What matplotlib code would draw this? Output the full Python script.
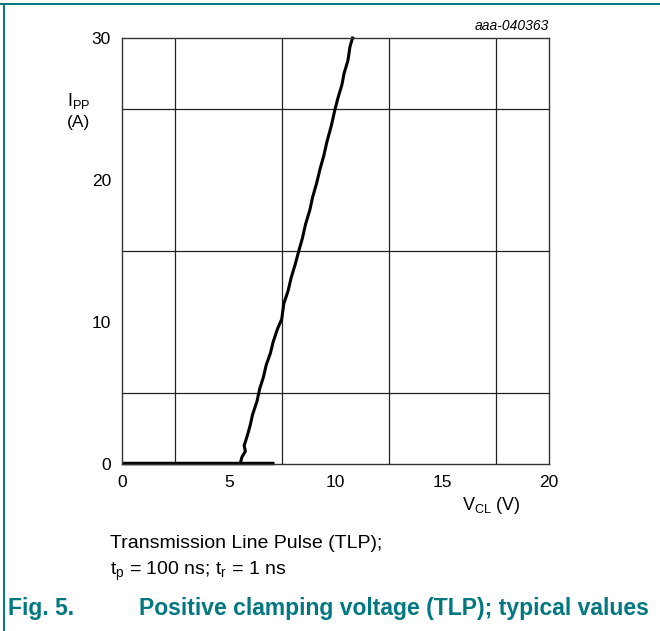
import matplotlib
matplotlib.use("Agg")
import matplotlib.pyplot as plt
from matplotlib.lines import Line2D

plt.rcParams['font.family'] = ['Liberation Sans', 'DejaVu Sans']
plt.rcParams['mathtext.fontset'] = 'custom'
plt.rcParams['mathtext.rm'] = 'Liberation Sans'
plt.rcParams['mathtext.it'] = 'Liberation Sans:italic'

TEAL = "#00787f"

# TLP curve: clamping voltage (V) vs pulse current (A)
v_cl = [5.55, 5.62, 5.78, 5.72, 5.85, 6.0, 6.12, 6.32, 6.45, 6.62, 6.76,
        6.95, 7.08, 7.28, 7.48, 7.58, 7.78, 7.92, 8.12, 8.28, 8.45, 8.6,
        8.8, 8.93, 9.12, 9.28, 9.45, 9.6, 9.8, 9.98, 10.12, 10.3, 10.4,
        10.58, 10.68, 10.8]
i_pp = [0.1, 0.5, 0.9, 1.3, 1.9, 2.7, 3.5, 4.4, 5.3, 6.1, 7.0,
        7.8, 8.6, 9.5, 10.2, 11.3, 12.2, 13.1, 14.1, 15.0, 15.9, 16.9,
        17.9, 18.8, 19.8, 20.8, 21.7, 22.7, 23.8, 25.0, 25.8, 26.7, 27.5,
        28.4, 29.4, 30.0]
# leakage trace along zero current
v_flat = [0.0, 7.1]
i_flat = [0.05, 0.05]

x_ticks = [0, 5, 10, 15, 20]
y_ticks = [0, 10, 20, 30]

fig = plt.figure(figsize=(6.6, 6.31), dpi=100)
ax = fig.add_axes([122/660, 1 - 464/631, 427/660, 426/631])

ax.set_xlim(0, 20)
ax.set_ylim(0, 30)
ax.set_xticks(x_ticks)
ax.set_yticks(y_ticks)
ax.set_xticks([2.5 * i for i in range(9)], minor=True)
ax.set_yticks([5 * i for i in range(7)], minor=True)
ax.grid(which='minor', color='#222222', linewidth=0.9)
ax.tick_params(which='both', length=0, labelsize=12.5, pad=8)
for s in ax.spines.values():
    s.set_linewidth(1.0)
    s.set_color('#333333')

ax.plot(v_flat, i_flat, color='black', linewidth=2.5, solid_capstyle='butt', clip_on=False)
ax.plot(v_cl, i_pp, color='black', linewidth=2.2, clip_on=False)

# labels
fig.text(67/660, 1 - 101/631, r"I$_{\mathrm{PP}}$", fontsize=13, va='center', ha='left')
fig.text(67/660, 1 - 123/631, "(A)", fontsize=12.5, va='center', ha='left')
fig.text(462/660, 1 - 505/631, r"V$_{\mathrm{CL}}$ (V)", fontsize=13, va='center', ha='left')
fig.text(549/660, 1 - 26/631, "aaa-040363", fontsize=10, style='italic', ha='right', va='center')

fig.text(110/660, 1 - 543/631, "Transmission Line Pulse (TLP);", fontsize=14, va='center', ha='left')
fig.text(110/660, 1 - 571/631, r"t$_{\mathrm{p}}$ = 100 ns; t$_{\mathrm{r}}$ = 1 ns", fontsize=14, va='center', ha='left')
fig.text(8/660, 1 - 609/631, "Fig. 5.", fontsize=16.5, fontweight='bold', color=TEAL, va='center', ha='left')
fig.text(139/660, 1 - 609/631, "Positive clamping voltage (TLP); typical values",
         fontsize=16.5, fontweight='bold', color=TEAL, va='center', ha='left')

# frame lines
fig.add_artist(Line2D([0, 1], [1 - 4/631, 1 - 4/631], color=TEAL, linewidth=1.4))
fig.add_artist(Line2D([4/660, 4/660], [0, 1 - 4/631], color=TEAL, linewidth=1.4))

fig.savefig("out.png", dpi=100)
